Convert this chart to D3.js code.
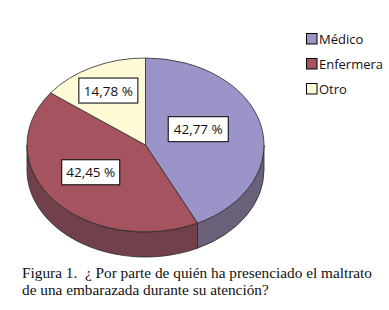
<!DOCTYPE html>
<html><head><meta charset="utf-8">
<script src="https://cdn.jsdelivr.net/npm/d3@7"></script>
<style>body{margin:0;background:#fff}svg{display:block}</style>
</head><body>
<script>
const categories = ["Médico", "Enfermera", "Otro"];
const values = [42.77, 42.45, 14.78];
const labels = ["42,77 %", "42,45 %", "14,78 %"];
const caption = ["Figura 1.  ¿ Por parte de quién ha presenciado el maltrato", "de una embarazada durante su atención?"];

const topColors = ["#9b94c8", "#a5535f", "#fffbd6"];
const sideColors = ["#6b6178", "#72404a", "#b0ad95"];

const W = 389, H = 310;
const cx = 145.5, cy = 145, rx = 118.5, ry = 87, depth = 25;
const svg = d3.select("body").append("svg").attr("width", W).attr("height", H);

const pie = d3.pie().sort(null).value(d => d);
const arcs = pie(values);
const px = (a, r = 1) => cx + rx * r * Math.sin(a);
const py = (a, r = 1) => cy - ry * r * Math.cos(a);

// side walls
const g = svg.append("g");
arcs.forEach((d, i) => {
  const s = Math.max(d.startAngle, Math.PI / 2), e = Math.min(d.endAngle, 3 * Math.PI / 2);
  if (e <= s) return;
  const large = (e - s) > Math.PI ? 1 : 0;
  const path = `M${px(s)},${py(s)} A${rx},${ry} 0 ${large} 1 ${px(e)},${py(e)} L${px(e)},${py(e) + depth} A${rx},${ry} 0 ${large} 0 ${px(s)},${py(s) + depth} Z`;
  g.append("path").attr("d", path).attr("fill", sideColors[i]).attr("stroke", "#2a2a2a").attr("stroke-width", 0.8);
});
// top faces
arcs.forEach((d, i) => {
  const s = d.startAngle, e = d.endAngle;
  const large = (e - s) > Math.PI ? 1 : 0;
  const path = `M${cx},${cy} L${px(s)},${py(s)} A${rx},${ry} 0 ${large} 1 ${px(e)},${py(e)} Z`;
  g.append("path").attr("d", path).attr("fill", topColors[i]).attr("stroke", "#2a2a2a").attr("stroke-width", 0.8);
});

// labels
const labelPos = [{f: 0.5, dx: -5, dy: -6}, {f: 0.6, dx: 0, dy: -6}, {f: 0.7, dx: 0, dy: 0}];
const boxW = [60, 58, 59], boxH = 25;
arcs.forEach((d, i) => {
  const m = (d.startAngle + d.endAngle) / 2;
  const x = px(m, labelPos[i].f) + labelPos[i].dx, y = py(m, labelPos[i].f) + labelPos[i].dy;
  svg.append("rect").attr("x", x - boxW[i] / 2).attr("y", y - boxH / 2).attr("width", boxW[i]).attr("height", boxH)
    .attr("fill", "#fff").attr("stroke", "#000").attr("stroke-width", 1);
  svg.append("text").attr("x", x).attr("y", y + 5).attr("text-anchor", "middle")
    .attr("font-family", "Open Sans, sans-serif").attr("font-size", 13.5).attr("fill", "#111").text(labels[i]);
});

// legend
const leg = svg.append("g");
categories.forEach((c, i) => {
  const y = 33 + i * 25;
  leg.append("rect").attr("x", 306.5).attr("y", y + 0.5).attr("width", 10.5).attr("height", 10.5)
    .attr("fill", topColors[i]).attr("stroke", "#000").attr("stroke-width", 1);
  leg.append("text").attr("x", 319).attr("y", y + 11).attr("font-family", "Open Sans, sans-serif")
    .attr("font-size", 13).attr("fill", "#111").text(c);
});

// caption
caption.forEach((t, i) => {
  svg.append("text").attr("x", 22).attr("y", 278 + i * 16.5).attr("font-family", "Liberation Serif, serif")
    .attr("font-size", 15.3).attr("fill", "#111").attr("xml:space", "preserve").style("white-space", "pre").text(t);
});
</script>
</body></html>
